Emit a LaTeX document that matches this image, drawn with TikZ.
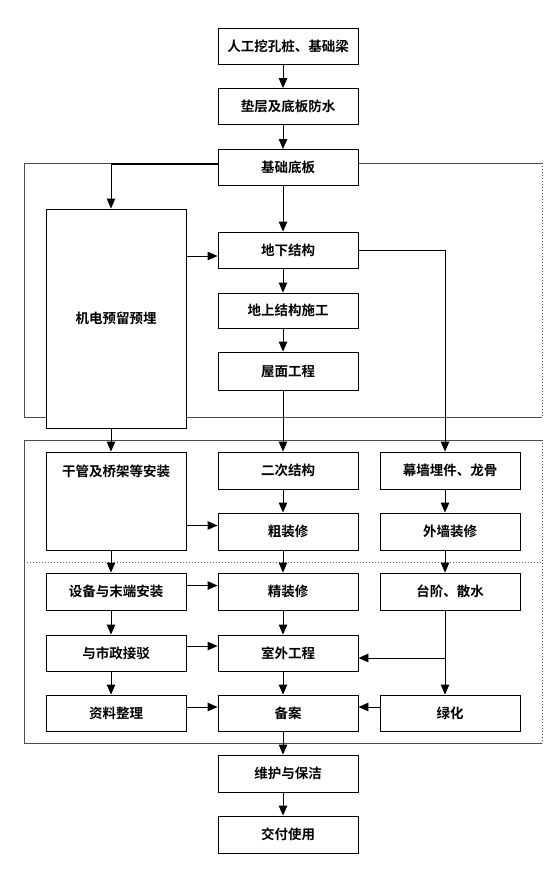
\documentclass[tikz,border=0pt]{standalone}
\usepackage{fontspec}
\newfontfamily\cjk{Noto Sans CJK SC}[BoldFont={Noto Sans CJK SC Bold}]
\usetikzlibrary{arrows.meta,calc}
\begin{document}
\begin{tikzpicture}[x=1pt,y=-1pt,
  box/.style={draw=black,line width=0.9pt,minimum width=140pt,minimum height=36pt,inner sep=0pt,
    font=\cjk\fontsize{13.5}{15}\selectfont\bfseries,fill=white},
  arr/.style={line width=0.9pt,-{Triangle[length=10pt,width=8.5pt]}},
  frame/.style={line width=0.9pt,draw=black!70},
  dotv/.style={line width=1pt,draw=black!70,dash pattern=on 1pt off 2pt},
  doth/.style={line width=0.8pt,draw=black!60,dash pattern=on 1pt off 2pt}]
\useasboundingbox (0,0) rectangle (555,878);
% frames
\draw[frame] (217,163) -- (24,163) -- (24,417) -- (542,417);
\draw[frame] (358,163) -- (542,163);
\draw[dotv] (542,163) -- (542,417);
\draw[frame] (542,440) -- (24,440) -- (24,743) -- (542,743);
\draw[dotv] (542,440) -- (542,743);
\draw[doth] (24,562) -- (542,562);
% top column
\node[box] (a1) at (288,46) {人工挖孔桩、基础梁};
\node[box] (a2) at (288,106.5) {垫层及底板防水};
\node[box] (a3) at (288,167.5) {基础底板};
\node[box,minimum height=219pt] (jd) at (116,318.5) {机电预留预埋};
\node[box] (dx) at (288,250) {地下结构};
\node[box,minimum height=35pt] (ds) at (288,310.5) {地上结构施工};
\node[box,minimum height=38pt] (wm) at (288,371) {屋面工程};
% frame 2
\node[box,minimum height=98pt] (gg) at (116,501) {};
\node[font=\cjk\fontsize{13.5}{15}\selectfont\bfseries] (ggt) at (116,471) {干管及桥架等安装};
\node[box,minimum height=37pt] (ec) at (288,470.5) {二次结构};
\node[box,minimum height=37pt] (mq) at (450,470.5) {幕墙埋件、龙骨};
\node[box,minimum height=37pt] (cz) at (288,531.5) {粗装修};
\node[box,minimum height=37pt] (wq) at (450,531.5) {外墙装修};
\node[box,minimum height=37pt] (sb) at (116,591.5) {设备与末端安装};
\node[box,minimum height=37pt] (jz) at (288,591.5) {精装修};
\node[box,minimum height=37pt] (tj) at (450,591.5) {台阶、散水};
\node[box] (sz) at (116,653) {与市政接驳};
\node[box] (sw) at (288,653) {室外工程};
\node[box] (zl) at (116,713) {资料整理};
\node[box] (ba) at (288,713) {备案};
\node[box] (lh) at (450,713) {绿化};
\node[box,minimum height=37pt] (wh) at (288,773.5) {维护与保洁};
\node[box,minimum height=37pt] (jf) at (288,834.5) {交付使用};
% connectors
\draw[arr] ([xshift=-5pt]a1.south) -- ([xshift=-5pt]a2.north);
\draw[arr] ([xshift=-5pt]a2.south) -- ([xshift=-5pt]a3.north);
\coordinate (jdn) at ([xshift=-5pt]jd.north);
\coordinate (a3w) at ([yshift=4pt]a3.west);
\coordinate (tl) at (a3w -| jdn);
\draw[line width=2pt] (a3w) -- ([xshift=-0.5pt]tl);
\draw[arr] (tl) -- (jdn);
\draw[arr] ([xshift=-5pt]a3.south) -- ([xshift=-5pt]dx.north);
\draw[arr] ([yshift=-6pt]dx.west -| jd.east) -- ([yshift=-6pt]dx.west);
\draw[arr] ([xshift=-5pt]dx.south) -- ([xshift=-5pt]ds.north);
\draw[arr] ([xshift=-5pt]ds.south) -- ([xshift=-5pt]wm.north);
\draw[arr] (dx.east) -| ([xshift=-5pt]mq.north);
\draw[arr] ([xshift=-5pt]jd.south) -- ([xshift=-5pt]gg.north);
\draw[arr] ([xshift=-5pt]wm.south) -- ([xshift=-5pt]ec.north);
\draw[arr] ([xshift=-5pt]ec.south) -- ([xshift=-5pt]cz.north);
\draw[arr] ([xshift=-5pt]mq.south) -- ([xshift=-5pt]wq.north);
\draw[arr] ([yshift=6pt]cz.west -| gg.east) -- ([yshift=6pt]cz.west);
\draw[arr] ([xshift=-5pt]gg.south) -- ([xshift=-5pt]sb.north);
\draw[arr] ([xshift=-5pt]cz.south) -- ([xshift=-5pt]jz.north);
\draw[arr] ([xshift=-5pt]wq.south) -- ([xshift=-5pt]tj.north);
\draw[arr] ([yshift=6pt]sb.east) -- ([yshift=6pt]jz.west);
\draw[arr] ([xshift=-5pt]sb.south) -- ([xshift=-5pt]sz.north);
\draw[arr] ([xshift=-5pt]jz.south) -- ([xshift=-5pt]sw.north);
\draw[arr] ([yshift=7pt]sz.east) -- ([yshift=7pt]sw.west);
\draw[arr] ([xshift=-5pt]tj.south) -- ([xshift=-5pt]lh.north);
\coordinate (br) at ([xshift=-5pt,yshift=-5pt]tj.south |- sw.east);
\draw[arr] (br) -- ([yshift=-5pt]sw.east);
\draw[arr] ([xshift=-5pt]sz.south) -- ([xshift=-5pt]zl.north);
\draw[arr] ([xshift=-5pt]sw.south) -- ([xshift=-5pt]ba.north);
\draw[arr] ([yshift=6pt]zl.east) -- ([yshift=6pt]ba.west);
\draw[arr] ([yshift=6pt]lh.west) -- ([yshift=6pt]ba.east);
\draw[arr] ([xshift=-5pt]ba.south) -- ([xshift=-5pt]wh.north);
\draw[arr] ([xshift=-5pt]wh.south) -- ([xshift=-5pt]jf.north);
\end{tikzpicture}
\end{document}
